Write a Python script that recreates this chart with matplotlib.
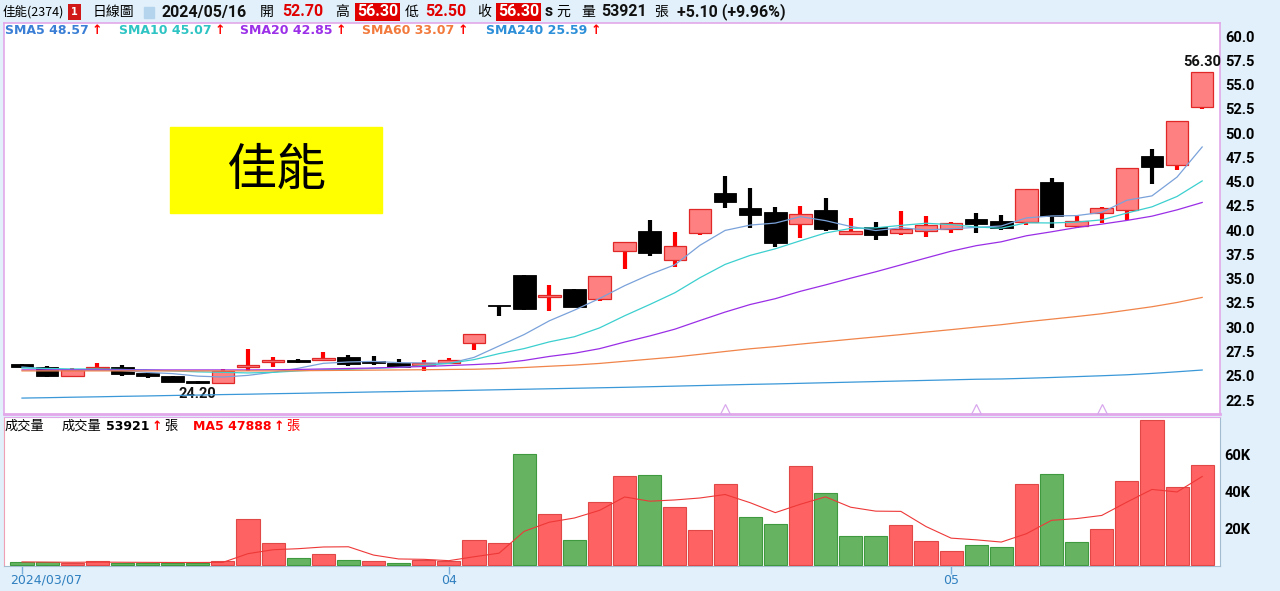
import matplotlib
matplotlib.use('Agg')
import matplotlib.pyplot as plt
from matplotlib.patches import Rectangle

CJK = ['Noto Sans CJK TC', 'DejaVu Sans']
NUM = ['Roboto', 'DejaVu Sans']

# daily candles 2024/03/07 .. 2024/05/16
opens = [26.2, 25.95, 25.0, 25.75, 25.95, 25.25, 25.0, 24.5, 24.25, 25.95,
         26.4, 26.6, 26.65, 26.95, 26.5, 26.35, 26.1, 26.35, 28.35, 32.2,
         35.4, 33.1, 33.9, 32.9, 37.85, 39.9, 36.95, 39.7, 43.8, 42.3,
         41.9, 40.6, 42.05, 39.6, 40.3, 39.7, 39.95, 40.1, 41.1, 40.95,
         40.8, 44.95, 40.4, 41.8, 42.1, 47.6, 46.7, 52.7]
highs = [26.25, 26.0, 25.85, 26.35, 26.1, 25.3, 25.0, 24.5, 25.7, 27.8,
         26.9, 26.75, 27.4, 27.1, 27.0, 26.7, 26.65, 26.85, 29.3, 32.2,
         35.4, 34.3, 33.9, 35.3, 38.8, 41.05, 39.85, 42.15, 45.6, 44.3,
         42.35, 42.5, 43.35, 41.2, 40.8, 42.0, 41.45, 40.85, 41.75, 41.55,
         44.25, 45.35, 41.5, 42.35, 46.45, 48.35, 51.2, 56.3]
lows = [25.8, 24.9, 24.9, 25.7, 25.0, 24.8, 24.35, 24.2, 24.25, 25.5,
        25.9, 26.35, 26.6, 26.0, 26.15, 25.85, 25.5, 26.3, 27.7, 31.2,
        31.8, 31.7, 32.1, 32.75, 36.0, 37.35, 36.25, 39.5, 42.3, 40.2,
        38.3, 39.15, 39.9, 39.5, 39.0, 39.5, 39.3, 39.7, 39.75, 40.0,
        40.5, 40.2, 40.2, 40.7, 41.05, 44.8, 46.2, 52.5]
closes = [25.95, 25.0, 25.6, 25.95, 25.15, 25.0, 24.4, 24.3, 25.5, 26.05,
          26.6, 26.45, 26.85, 26.2, 26.3, 25.95, 26.3, 26.6, 29.3, 32.2,
          31.85, 33.35, 32.1, 35.3, 38.8, 37.6, 38.35, 42.15, 42.95, 41.55,
          38.65, 41.65, 40.1, 39.95, 39.45, 40.1, 40.5, 40.75, 40.6, 40.2,
          44.25, 41.5, 40.95, 42.25, 46.45, 46.5, 51.2, 56.3]

# volume in thousands of lots (張)
volumes = [1.6, 1.6, 1.3, 2.2, 1.4, 1.3, 1.3, 1.3, 2.5, 24.9,
           11.9, 4.1, 5.9, 3.1, 2.5, 1.4, 3.1, 2.3, 13.6, 12.2,
           60.3, 27.8, 13.6, 34.2, 48.4, 48.8, 31.2, 18.9, 43.6, 26.2,
           22.1, 53.8, 38.9, 15.6, 15.6, 21.5, 12.9, 7.6, 11.0, 9.6,
           44.0, 49.0, 12.3, 19.5, 45.5, 78.3, 42.2, 53.921]
vol_ma5 = [1.8, 1.7, 1.6, 1.7, 1.62, 1.56, 1.5, 1.5, 1.56, 6.26,
           8.38, 8.94, 9.86, 9.98, 5.5, 3.4, 3.2, 2.48, 4.58, 6.52,
           18.3, 23.24, 25.5, 29.62, 36.86, 34.56, 35.24, 36.3, 38.18, 33.74,
           28.4, 32.92, 36.92, 31.32, 29.2, 29.08, 20.9, 14.64, 13.72, 12.52,
           17.02, 24.24, 25.18, 26.88, 34.06, 40.92, 39.56, 47.888]

sma5 = [25.9, 25.7, 25.6, 25.6, 25.54, 25.34, 25.22, 24.96, 24.87, 25.04,
        25.36, 25.77, 26.28, 26.42, 26.48, 26.35, 26.32, 26.27, 26.89, 28.07,
        29.25, 30.66, 31.76, 32.96, 34.28, 35.43, 36.43, 38.44, 39.97, 40.52,
        40.73, 41.39, 40.98, 40.38, 39.96, 40.25, 40.02, 40.15, 40.28, 40.43,
        41.26, 41.46, 41.5, 41.83, 43.08, 43.53, 45.47, 48.57]
sma10 = [25.8, 25.75, 25.7, 25.7, 25.65, 25.6, 25.5, 25.4, 25.35, 25.29,
         25.35, 25.5, 25.62, 25.65, 25.76, 25.86, 26.05, 26.28, 26.66, 27.28,
         27.8, 28.49, 29.02, 29.93, 31.18, 32.34, 33.55, 35.1, 36.47, 37.4,
         38.08, 38.91, 39.71, 40.18, 40.24, 40.49, 40.71, 40.57, 40.33, 40.2,
         40.76, 40.74, 40.83, 41.06, 41.76, 42.4, 43.47, 45.07]
sma20 = [25.6, 25.6, 25.6, 25.6, 25.6, 25.6, 25.6, 25.6, 25.6, 25.6,
         25.62, 25.65, 25.7, 25.75, 25.8, 25.88, 25.95, 26.05, 26.15, 26.28,
         26.58, 26.99, 27.32, 27.79, 28.47, 29.1, 29.8, 30.69, 31.56, 32.34,
         32.94, 33.7, 34.36, 35.05, 35.71, 36.42, 37.13, 37.83, 38.4, 38.8,
         39.42, 39.83, 40.27, 40.62, 41.0, 41.44, 42.09, 42.85]
sma60 = [25.5, 25.5, 25.5, 25.5, 25.5, 25.5, 25.5, 25.5, 25.5, 25.5,
         25.5, 25.52, 25.54, 25.56, 25.58, 25.6, 25.62, 25.65, 25.67, 25.74,
         25.85, 25.98, 26.1, 26.27, 26.49, 26.71, 26.93, 27.21, 27.5, 27.78,
         28.0, 28.26, 28.51, 28.76, 29.0, 29.24, 29.5, 29.75, 30.01, 30.26,
         30.56, 30.83, 31.1, 31.39, 31.75, 32.11, 32.55, 33.07]
sma240 = [22.70, 22.74, 22.79, 22.83, 22.88, 22.92, 22.97, 23.01, 23.06, 23.10,
          23.15, 23.19, 23.24, 23.28, 23.33, 23.37, 23.42, 23.46, 23.51, 23.56,
          23.61, 23.66, 23.71, 23.76, 23.81, 23.87, 23.93, 23.99, 24.05, 24.11,
          24.16, 24.22, 24.28, 24.34, 24.40, 24.46, 24.52, 24.58, 24.64, 24.67,
          24.74, 24.82, 24.91, 25.0, 25.10, 25.24, 25.41, 25.59]

tick_pos = [0, 17, 37]
tick_labels = ['2024/03/07', '04', '05']
signal_idx = [28, 38, 43]

W, H = 1280, 591


def fx(x):
    return x / W


def fy(y):
    return 1 - y / H


fig = plt.figure(figsize=(12.8, 5.91), dpi=100, facecolor='#e1f0fa')
ax = fig.add_axes([fx(4), fy(414), fx(1220) - fx(4), fy(23) - fy(414)])
vax = fig.add_axes([fx(4), fy(566), fx(1220) - fx(4), fy(417) - fy(566)])

n = len(closes)
x = list(range(n))

# --- candles
for i in x:
    o, h, l, c = opens[i], highs[i], lows[i], closes[i]
    up = c > o
    wick = '#ff0000' if up else 'black'
    ax.vlines(i, l, h, color=wick, lw=3, zorder=3)
    body = max(abs(c - o), 0.14)
    if up:
        ax.bar(i, body, bottom=min(o, c), width=0.9, color='#ff8080',
               edgecolor='#e02828', lw=0.9, zorder=4)
    else:
        ax.bar(i, body, bottom=min(o, c), width=0.9, color='black',
               edgecolor='black', lw=0.6, zorder=4)

ax.plot(x, sma5, color='#7aa2da', lw=0.9, zorder=5)
ax.plot(x, sma10, color='#3ccfcf', lw=0.9, zorder=5)
ax.plot(x, sma20, color='#9a2ee6', lw=0.9, zorder=5)
ax.plot(x, sma60, color='#f0844a', lw=0.9, zorder=5)
ax.plot(x, sma240, color='#3a98d8', lw=0.9, zorder=5)
ax.plot(signal_idx, [21.55] * len(signal_idx), ls='none', marker='^',
        ms=7, mfc='none', mec='#d8a8ec', mew=0.9, zorder=5)

hi = highs.index(max(highs))
lo = lows.index(min(lows))
ax.annotate('%.2f' % highs[hi], (hi, highs[hi]), xytext=(0, 3),
            textcoords='offset pixels', ha='center', va='bottom',
            family=NUM, fontsize=10.5, fontweight='bold', color='#111111')
ax.annotate('%.2f' % lows[lo], (lo, lows[lo]), xytext=(0, -3),
            textcoords='offset pixels', ha='center', va='top',
            family=NUM, fontsize=10.5, fontweight='bold', color='#111111')

ax.set_xlim(-0.717, 47.71)
ax.set_ylim(21.06, 61.34)
ax.set_xticks([])
yt = [22.5 + 2.5 * k for k in range(16)]
ax.set_yticks(yt)
ax.set_yticklabels(['%.1f' % v for v in yt])
ax.yaxis.tick_right()
ax.tick_params(axis='y', length=0, pad=4)
for lab in ax.get_yticklabels():
    lab.set_fontweight('bold')
    lab.set_family(NUM)
    lab.set_fontsize(10.5)
for s in ax.spines.values():
    s.set_color('#e2a8ea')
    s.set_linewidth(1.2)
ax.spines['bottom'].set_linewidth(2)

# yellow name box
fig.add_artist(Rectangle((fx(170), fy(213)), fx(212), 86 / H,
                         transform=fig.transFigure, color='#ffff00', zorder=5))
fig.text(fx(276), fy(171), '佳能', family=CJK, fontsize=36, ha='center',
         va='center', color='black', zorder=6)

# --- volume
prev = [closes[0] + 0.3] + closes[:-1]
vcol = ['#ff6262' if closes[i] > prev[i] else '#66b462' for i in x]
vedge = ['#e04848' if closes[i] > prev[i] else '#3f9a3f' for i in x]
vax.bar(x, volumes, width=0.92, color=vcol, edgecolor=vedge, lw=0.8, zorder=3)
vax.plot(x, vol_ma5, color='#ee3838', lw=0.8, zorder=4)
vax.set_xlim(-0.717, 47.71)
vax.set_ylim(-0.4, 80)
vax.set_yticks([20, 40, 60])
vax.set_yticklabels(['20K', '40K', '60K'])
vax.yaxis.tick_right()
vax.tick_params(axis='y', length=0, pad=3)
for lab in vax.get_yticklabels():
    lab.set_fontweight('bold')
    lab.set_family(NUM)
    lab.set_fontsize(10.5)
vax.set_xticks(tick_pos)
vax.set_xticklabels([])
vax.tick_params(axis='x', length=6, color='#7aaedc', width=1)
vax.spines['top'].set_color('#e2a8ea')
vax.spines['left'].set_color('#f0a0b4')
vax.spines['right'].set_color('#a4bccf')
vax.spines['bottom'].set_color('#a4bccf')

fig.text(fx(10), fy(580), tick_labels[0], fontsize=9, color='#2f7fc0',
         ha='left', va='center')
for p, lab in zip(tick_pos[1:], tick_labels[1:]):
    fig.text(fx(22 + 25.11 * p), fy(580), lab, fontsize=9, color='#2f7fc0',
             ha='center', va='center')

# --- header text
r = fig.canvas.get_renderer()


def put(xp, yp, s, **kw):
    kw.setdefault('va', 'center')
    t = fig.text(fx(xp), fy(yp), s, ha='left', **kw)
    return t.get_window_extent(renderer=r).x1


hy = 12
big = dict(family=NUM, fontsize=11.5, fontweight='bold')
put(3, hy, '佳能(2374)', family=CJK, fontsize=9)
put(71, hy, '1', fontsize=7, color='white', fontweight='bold',
    bbox=dict(boxstyle='square,pad=0.3', fc='#d01818', ec='none'))
put(93, hy, '日線圖', family=CJK, fontsize=10)
fig.add_artist(Rectangle((fx(144), fy(18)), fx(10), 11 / H,
                         transform=fig.transFigure, color='#b4d4ee'))
put(161, hy, '2024/05/16', color='#111111', **big)
put(260, hy, '開', family=CJK, fontsize=10)
put(282, hy, '52.70', color='#e00000', **big)
put(335, hy, '高', family=CJK, fontsize=10)
put(357, hy, '56.30', color='white',
    bbox=dict(boxstyle='square,pad=0.12', fc='#e00000', ec='none'), **big)
put(405, hy, '低', family=CJK, fontsize=10)
put(425, hy, '52.50', color='#e00000', **big)
put(477, hy, '收', family=CJK, fontsize=10)
put(498, hy, '56.30', color='white',
    bbox=dict(boxstyle='square,pad=0.12', fc='#e00000', ec='none'), **big)
put(545, hy, 's', color='#111111', **big)
put(556, hy, '元', family=CJK, fontsize=10)
put(581, hy, '量', family=CJK, fontsize=10)
put(601, hy, '53921', color='#111111', **big)
put(654, hy, '張', family=CJK, fontsize=10)
put(677, hy, '+5.10 (+9.96%)', color='#111111', **big)

# MA legend row
ly = 31
legend = [(5, 'SMA5 48.57', '#3a7fd5'), (119, 'SMA10 45.07', '#2ec4c4'),
          (240, 'SMA20 42.85', '#9b30e8'), (362, 'SMA60 33.07', '#f27a3c'),
          (486, 'SMA240 25.59', '#2c8fd8')]
for xp, s, col in legend:
    end = put(xp, ly, s, fontsize=9, fontweight='bold', color=col)
    put(end + 3, ly, '↑', fontsize=9, fontweight='bold', color='#ff0000')

# volume legend row
vy = 426
put(5, vy, '成交量', family=CJK, fontsize=9.5)
end = put(62, vy, '成交量', family=CJK, fontsize=9.5)
end = put(end + 4, vy, '53921', fontsize=9, fontweight='bold')
end = put(end + 2, vy, '↑', fontsize=9, fontweight='bold', color='#ff0000')
put(end + 2, vy, '張', family=CJK, fontsize=9.5)
end = put(193, vy, 'MA5 47888', fontsize=9, fontweight='bold', color='#ff0000')
end = put(end + 2, vy, '↑', fontsize=9, fontweight='bold', color='#ff0000')
put(end + 2, vy, '張', family=CJK, fontsize=9.5, color='#ff0000')

fig.savefig('out.png', dpi=100, facecolor=fig.get_facecolor())
